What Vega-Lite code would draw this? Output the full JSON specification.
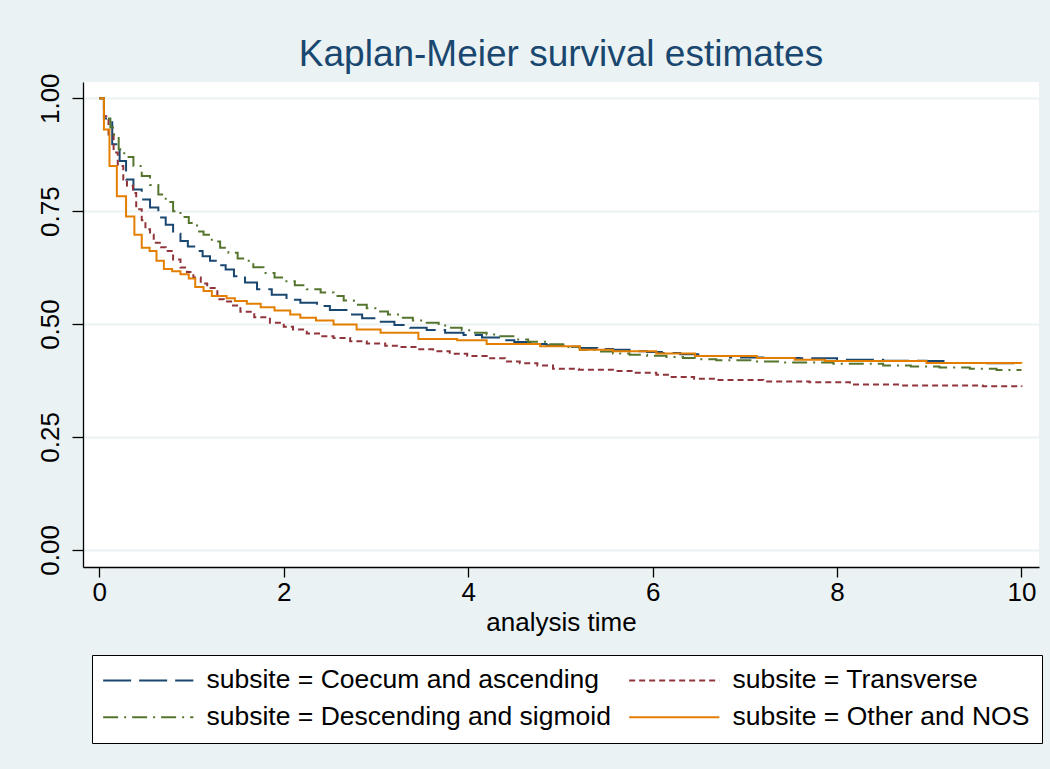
{
  "$schema": "https://vega.github.io/schema/vega-lite/v6.json",
  "width": 956,
  "height": 485,
  "autosize": {"type": "none"},
  "padding": {"left": 83, "top": 82, "right": 11, "bottom": 202},
  "background": "#EAF2F3",
  "title": {"text": "Kaplan-Meier survival estimates", "fontSize": 37, "font": "Liberation Sans", "fontWeight": "normal", "color": "#1A476F", "anchor": "middle", "baseline": "alphabetic", "offset": -30},
  "config": {"view": {"fill": "white", "stroke": null}, "font": "Liberation Sans"},
  "data": {"values": [
    {"subsite": "Coecum and ascending", "time": 0, "surv": 1.0},
    {"subsite": "Coecum and ascending", "time": 0.05, "surv": 0.955},
    {"subsite": "Coecum and ascending", "time": 0.14, "surv": 0.898},
    {"subsite": "Coecum and ascending", "time": 0.22, "surv": 0.861},
    {"subsite": "Coecum and ascending", "time": 0.29, "surv": 0.82},
    {"subsite": "Coecum and ascending", "time": 0.37, "surv": 0.798},
    {"subsite": "Coecum and ascending", "time": 0.46, "surv": 0.776},
    {"subsite": "Coecum and ascending", "time": 0.55, "surv": 0.758},
    {"subsite": "Coecum and ascending", "time": 0.64, "surv": 0.736},
    {"subsite": "Coecum and ascending", "time": 0.72, "surv": 0.72},
    {"subsite": "Coecum and ascending", "time": 0.80, "surv": 0.70},
    {"subsite": "Coecum and ascending", "time": 0.88, "surv": 0.684},
    {"subsite": "Coecum and ascending", "time": 0.96, "surv": 0.672},
    {"subsite": "Coecum and ascending", "time": 1.04, "surv": 0.662},
    {"subsite": "Coecum and ascending", "time": 1.12, "surv": 0.650},
    {"subsite": "Coecum and ascending", "time": 1.20, "surv": 0.640},
    {"subsite": "Coecum and ascending", "time": 1.28, "surv": 0.630},
    {"subsite": "Coecum and ascending", "time": 1.37, "surv": 0.621},
    {"subsite": "Coecum and ascending", "time": 1.46, "surv": 0.606},
    {"subsite": "Coecum and ascending", "time": 1.58, "surv": 0.592},
    {"subsite": "Coecum and ascending", "time": 1.71, "surv": 0.577},
    {"subsite": "Coecum and ascending", "time": 1.87, "surv": 0.565},
    {"subsite": "Coecum and ascending", "time": 2.03, "surv": 0.554},
    {"subsite": "Coecum and ascending", "time": 2.18, "surv": 0.547},
    {"subsite": "Coecum and ascending", "time": 2.36, "surv": 0.540},
    {"subsite": "Coecum and ascending", "time": 2.50, "surv": 0.531},
    {"subsite": "Coecum and ascending", "time": 2.68, "surv": 0.521},
    {"subsite": "Coecum and ascending", "time": 2.85, "surv": 0.513},
    {"subsite": "Coecum and ascending", "time": 3.03, "surv": 0.505},
    {"subsite": "Coecum and ascending", "time": 3.20, "surv": 0.498},
    {"subsite": "Coecum and ascending", "time": 3.37, "surv": 0.492},
    {"subsite": "Coecum and ascending", "time": 3.55, "surv": 0.487},
    {"subsite": "Coecum and ascending", "time": 3.75, "surv": 0.481},
    {"subsite": "Coecum and ascending", "time": 3.95, "surv": 0.476},
    {"subsite": "Coecum and ascending", "time": 4.15, "surv": 0.470},
    {"subsite": "Coecum and ascending", "time": 4.35, "surv": 0.464},
    {"subsite": "Coecum and ascending", "time": 4.50, "surv": 0.460},
    {"subsite": "Coecum and ascending", "time": 4.70, "surv": 0.456},
    {"subsite": "Coecum and ascending", "time": 4.85, "surv": 0.453},
    {"subsite": "Coecum and ascending", "time": 5.05, "surv": 0.450},
    {"subsite": "Coecum and ascending", "time": 5.21, "surv": 0.447},
    {"subsite": "Coecum and ascending", "time": 5.40, "surv": 0.445},
    {"subsite": "Coecum and ascending", "time": 5.57, "surv": 0.443},
    {"subsite": "Coecum and ascending", "time": 5.75, "surv": 0.440},
    {"subsite": "Coecum and ascending", "time": 5.94, "surv": 0.438},
    {"subsite": "Coecum and ascending", "time": 6.10, "surv": 0.436},
    {"subsite": "Coecum and ascending", "time": 6.30, "surv": 0.433},
    {"subsite": "Coecum and ascending", "time": 6.55, "surv": 0.429},
    {"subsite": "Coecum and ascending", "time": 6.84, "surv": 0.426},
    {"subsite": "Coecum and ascending", "time": 7.20, "surv": 0.425},
    {"subsite": "Coecum and ascending", "time": 7.60, "surv": 0.424},
    {"subsite": "Coecum and ascending", "time": 8.00, "surv": 0.421},
    {"subsite": "Coecum and ascending", "time": 8.50, "surv": 0.419},
    {"subsite": "Coecum and ascending", "time": 8.97, "surv": 0.418},
    {"subsite": "Coecum and ascending", "time": 9.22, "surv": 0.414},
    {"subsite": "Coecum and ascending", "time": 9.60, "surv": 0.413},
    {"subsite": "Coecum and ascending", "time": 10.0, "surv": 0.413},

    {"subsite": "Transverse", "time": 0, "surv": 1.0},
    {"subsite": "Transverse", "time": 0.05, "surv": 0.96},
    {"subsite": "Transverse", "time": 0.10, "surv": 0.92},
    {"subsite": "Transverse", "time": 0.155, "surv": 0.88},
    {"subsite": "Transverse", "time": 0.20, "surv": 0.85},
    {"subsite": "Transverse", "time": 0.26, "surv": 0.82},
    {"subsite": "Transverse", "time": 0.30, "surv": 0.806},
    {"subsite": "Transverse", "time": 0.365, "surv": 0.79},
    {"subsite": "Transverse", "time": 0.40, "surv": 0.754},
    {"subsite": "Transverse", "time": 0.46, "surv": 0.73},
    {"subsite": "Transverse", "time": 0.50, "surv": 0.71},
    {"subsite": "Transverse", "time": 0.55, "surv": 0.698},
    {"subsite": "Transverse", "time": 0.59, "surv": 0.68},
    {"subsite": "Transverse", "time": 0.67, "surv": 0.67},
    {"subsite": "Transverse", "time": 0.72, "surv": 0.662},
    {"subsite": "Transverse", "time": 0.80, "surv": 0.643},
    {"subsite": "Transverse", "time": 0.88, "surv": 0.625},
    {"subsite": "Transverse", "time": 0.95, "surv": 0.615},
    {"subsite": "Transverse", "time": 1.02, "surv": 0.603},
    {"subsite": "Transverse", "time": 1.10, "surv": 0.59},
    {"subsite": "Transverse", "time": 1.17, "surv": 0.58},
    {"subsite": "Transverse", "time": 1.28, "surv": 0.555},
    {"subsite": "Transverse", "time": 1.35, "surv": 0.550},
    {"subsite": "Transverse", "time": 1.45, "surv": 0.541},
    {"subsite": "Transverse", "time": 1.53, "surv": 0.527},
    {"subsite": "Transverse", "time": 1.68, "surv": 0.515},
    {"subsite": "Transverse", "time": 1.85, "surv": 0.503},
    {"subsite": "Transverse", "time": 2.00, "surv": 0.494},
    {"subsite": "Transverse", "time": 2.10, "surv": 0.488},
    {"subsite": "Transverse", "time": 2.25, "surv": 0.479},
    {"subsite": "Transverse", "time": 2.40, "surv": 0.473},
    {"subsite": "Transverse", "time": 2.54, "surv": 0.469},
    {"subsite": "Transverse", "time": 2.72, "surv": 0.462},
    {"subsite": "Transverse", "time": 2.90, "surv": 0.457},
    {"subsite": "Transverse", "time": 3.10, "surv": 0.452},
    {"subsite": "Transverse", "time": 3.26, "surv": 0.449},
    {"subsite": "Transverse", "time": 3.45, "surv": 0.444},
    {"subsite": "Transverse", "time": 3.62, "surv": 0.440},
    {"subsite": "Transverse", "time": 3.80, "surv": 0.434},
    {"subsite": "Transverse", "time": 3.99, "surv": 0.429},
    {"subsite": "Transverse", "time": 4.20, "surv": 0.424},
    {"subsite": "Transverse", "time": 4.40, "surv": 0.417},
    {"subsite": "Transverse", "time": 4.56, "surv": 0.413},
    {"subsite": "Transverse", "time": 4.75, "surv": 0.408},
    {"subsite": "Transverse", "time": 4.92, "surv": 0.401},
    {"subsite": "Transverse", "time": 5.20, "surv": 0.399},
    {"subsite": "Transverse", "time": 5.57, "surv": 0.396},
    {"subsite": "Transverse", "time": 5.80, "surv": 0.392},
    {"subsite": "Transverse", "time": 6.04, "surv": 0.388},
    {"subsite": "Transverse", "time": 6.19, "surv": 0.383},
    {"subsite": "Transverse", "time": 6.45, "surv": 0.379},
    {"subsite": "Transverse", "time": 6.69, "surv": 0.376},
    {"subsite": "Transverse", "time": 7.20, "surv": 0.373},
    {"subsite": "Transverse", "time": 7.70, "surv": 0.371},
    {"subsite": "Transverse", "time": 8.14, "surv": 0.366},
    {"subsite": "Transverse", "time": 8.70, "surv": 0.364},
    {"subsite": "Transverse", "time": 9.58, "surv": 0.362},
    {"subsite": "Transverse", "time": 10.0, "surv": 0.361},

    {"subsite": "Descending and sigmoid", "time": 0, "surv": 1.0},
    {"subsite": "Descending and sigmoid", "time": 0.05, "surv": 0.955},
    {"subsite": "Descending and sigmoid", "time": 0.12, "surv": 0.935},
    {"subsite": "Descending and sigmoid", "time": 0.16, "surv": 0.915},
    {"subsite": "Descending and sigmoid", "time": 0.21, "surv": 0.887},
    {"subsite": "Descending and sigmoid", "time": 0.27, "surv": 0.87},
    {"subsite": "Descending and sigmoid", "time": 0.37, "surv": 0.85},
    {"subsite": "Descending and sigmoid", "time": 0.46, "surv": 0.828},
    {"subsite": "Descending and sigmoid", "time": 0.55, "surv": 0.808},
    {"subsite": "Descending and sigmoid", "time": 0.64, "surv": 0.787},
    {"subsite": "Descending and sigmoid", "time": 0.72, "surv": 0.77},
    {"subsite": "Descending and sigmoid", "time": 0.80, "surv": 0.75},
    {"subsite": "Descending and sigmoid", "time": 0.88, "surv": 0.737},
    {"subsite": "Descending and sigmoid", "time": 0.97, "surv": 0.724},
    {"subsite": "Descending and sigmoid", "time": 1.06, "surv": 0.705},
    {"subsite": "Descending and sigmoid", "time": 1.13, "surv": 0.698},
    {"subsite": "Descending and sigmoid", "time": 1.22, "surv": 0.683},
    {"subsite": "Descending and sigmoid", "time": 1.31, "surv": 0.669},
    {"subsite": "Descending and sigmoid", "time": 1.40, "surv": 0.658},
    {"subsite": "Descending and sigmoid", "time": 1.50, "surv": 0.645},
    {"subsite": "Descending and sigmoid", "time": 1.56, "surv": 0.640},
    {"subsite": "Descending and sigmoid", "time": 1.67, "surv": 0.626},
    {"subsite": "Descending and sigmoid", "time": 1.78, "surv": 0.613},
    {"subsite": "Descending and sigmoid", "time": 1.90, "surv": 0.603},
    {"subsite": "Descending and sigmoid", "time": 2.00, "surv": 0.595},
    {"subsite": "Descending and sigmoid", "time": 2.12, "surv": 0.586},
    {"subsite": "Descending and sigmoid", "time": 2.25, "surv": 0.577},
    {"subsite": "Descending and sigmoid", "time": 2.40, "surv": 0.570},
    {"subsite": "Descending and sigmoid", "time": 2.54, "surv": 0.562},
    {"subsite": "Descending and sigmoid", "time": 2.65, "surv": 0.552},
    {"subsite": "Descending and sigmoid", "time": 2.76, "surv": 0.543},
    {"subsite": "Descending and sigmoid", "time": 2.90, "surv": 0.535},
    {"subsite": "Descending and sigmoid", "time": 3.01, "surv": 0.528},
    {"subsite": "Descending and sigmoid", "time": 3.13, "surv": 0.521},
    {"subsite": "Descending and sigmoid", "time": 3.26, "surv": 0.514},
    {"subsite": "Descending and sigmoid", "time": 3.40, "surv": 0.508},
    {"subsite": "Descending and sigmoid", "time": 3.55, "surv": 0.503},
    {"subsite": "Descending and sigmoid", "time": 3.68, "surv": 0.497},
    {"subsite": "Descending and sigmoid", "time": 3.80, "surv": 0.492},
    {"subsite": "Descending and sigmoid", "time": 3.93, "surv": 0.486},
    {"subsite": "Descending and sigmoid", "time": 4.06, "surv": 0.481},
    {"subsite": "Descending and sigmoid", "time": 4.20, "surv": 0.477},
    {"subsite": "Descending and sigmoid", "time": 4.31, "surv": 0.473},
    {"subsite": "Descending and sigmoid", "time": 4.49, "surv": 0.466},
    {"subsite": "Descending and sigmoid", "time": 4.65, "surv": 0.461},
    {"subsite": "Descending and sigmoid", "time": 4.85, "surv": 0.455},
    {"subsite": "Descending and sigmoid", "time": 5.03, "surv": 0.449},
    {"subsite": "Descending and sigmoid", "time": 5.21, "surv": 0.443},
    {"subsite": "Descending and sigmoid", "time": 5.40, "surv": 0.439},
    {"subsite": "Descending and sigmoid", "time": 5.57, "surv": 0.435},
    {"subsite": "Descending and sigmoid", "time": 5.75, "surv": 0.432},
    {"subsite": "Descending and sigmoid", "time": 5.94, "surv": 0.430},
    {"subsite": "Descending and sigmoid", "time": 6.15, "surv": 0.427},
    {"subsite": "Descending and sigmoid", "time": 6.33, "surv": 0.425},
    {"subsite": "Descending and sigmoid", "time": 6.50, "surv": 0.422},
    {"subsite": "Descending and sigmoid", "time": 6.69, "surv": 0.420},
    {"subsite": "Descending and sigmoid", "time": 7.06, "surv": 0.417},
    {"subsite": "Descending and sigmoid", "time": 7.42, "surv": 0.415},
    {"subsite": "Descending and sigmoid", "time": 7.96, "surv": 0.412},
    {"subsite": "Descending and sigmoid", "time": 8.50, "surv": 0.408},
    {"subsite": "Descending and sigmoid", "time": 8.80, "surv": 0.406},
    {"subsite": "Descending and sigmoid", "time": 9.11, "surv": 0.404},
    {"subsite": "Descending and sigmoid", "time": 9.44, "surv": 0.401},
    {"subsite": "Descending and sigmoid", "time": 9.73, "surv": 0.398},
    {"subsite": "Descending and sigmoid", "time": 10.0, "surv": 0.398},

    {"subsite": "Other and NOS", "time": 0, "surv": 1.0},
    {"subsite": "Other and NOS", "time": 0.05, "surv": 0.931},
    {"subsite": "Other and NOS", "time": 0.11, "surv": 0.850},
    {"subsite": "Other and NOS", "time": 0.19, "surv": 0.783},
    {"subsite": "Other and NOS", "time": 0.29, "surv": 0.738},
    {"subsite": "Other and NOS", "time": 0.38, "surv": 0.698},
    {"subsite": "Other and NOS", "time": 0.46, "surv": 0.669},
    {"subsite": "Other and NOS", "time": 0.545, "surv": 0.662},
    {"subsite": "Other and NOS", "time": 0.62, "surv": 0.640},
    {"subsite": "Other and NOS", "time": 0.70, "surv": 0.622},
    {"subsite": "Other and NOS", "time": 0.79, "surv": 0.617},
    {"subsite": "Other and NOS", "time": 0.88, "surv": 0.610},
    {"subsite": "Other and NOS", "time": 0.97, "surv": 0.601},
    {"subsite": "Other and NOS", "time": 1.04, "surv": 0.582},
    {"subsite": "Other and NOS", "time": 1.13, "surv": 0.573},
    {"subsite": "Other and NOS", "time": 1.22, "surv": 0.562},
    {"subsite": "Other and NOS", "time": 1.38, "surv": 0.557},
    {"subsite": "Other and NOS", "time": 1.47, "surv": 0.551},
    {"subsite": "Other and NOS", "time": 1.60, "surv": 0.545},
    {"subsite": "Other and NOS", "time": 1.75, "surv": 0.537},
    {"subsite": "Other and NOS", "time": 1.90, "surv": 0.530},
    {"subsite": "Other and NOS", "time": 2.07, "surv": 0.521},
    {"subsite": "Other and NOS", "time": 2.18, "surv": 0.514},
    {"subsite": "Other and NOS", "time": 2.35, "surv": 0.508},
    {"subsite": "Other and NOS", "time": 2.54, "surv": 0.499},
    {"subsite": "Other and NOS", "time": 2.79, "surv": 0.488},
    {"subsite": "Other and NOS", "time": 3.05, "surv": 0.481},
    {"subsite": "Other and NOS", "time": 3.46, "surv": 0.467},
    {"subsite": "Other and NOS", "time": 3.88, "surv": 0.464},
    {"subsite": "Other and NOS", "time": 4.20, "surv": 0.456},
    {"subsite": "Other and NOS", "time": 4.78, "surv": 0.451},
    {"subsite": "Other and NOS", "time": 5.21, "surv": 0.443},
    {"subsite": "Other and NOS", "time": 5.57, "surv": 0.440},
    {"subsite": "Other and NOS", "time": 6.04, "surv": 0.435},
    {"subsite": "Other and NOS", "time": 6.46, "surv": 0.429},
    {"subsite": "Other and NOS", "time": 7.13, "surv": 0.425},
    {"subsite": "Other and NOS", "time": 7.54, "surv": 0.421},
    {"subsite": "Other and NOS", "time": 7.87, "surv": 0.418},
    {"subsite": "Other and NOS", "time": 8.97, "surv": 0.414},
    {"subsite": "Other and NOS", "time": 10.0, "surv": 0.413}
  ]},
  "mark": {"type": "line", "interpolate": "step-after", "strokeWidth": 2},
  "encoding": {
    "x": {
      "field": "time", "type": "quantitative",
      "scale": {"domain": [-0.177, 10.19], "nice": false, "zero": false},
      "axis": {
        "values": [0, 2, 4, 6, 8, 10], "grid": false,
        "domainColor": "black", "domainWidth": 1.3,
        "tickColor": "black", "tickSize": 10, "tickWidth": 1.3,
        "labelFont": "Liberation Sans", "labelFontSize": 26, "labelColor": "black", "labelPadding": 2,
        "title": "analysis time", "titleFont": "Liberation Sans", "titleFontSize": 26, "titleFontWeight": "normal", "titleColor": "black", "titlePadding": 4
      }
    },
    "y": {
      "field": "surv", "type": "quantitative",
      "scale": {"domain": [-0.038, 1.036], "nice": false, "zero": false},
      "axis": {
        "values": [0, 0.25, 0.5, 0.75, 1], "format": ".2f",
        "grid": true, "gridColor": "#EAF2F3", "gridWidth": 2,
        "domainColor": "black", "domainWidth": 1.3,
        "tickColor": "black", "tickSize": 11, "tickWidth": 1.3,
        "labelFont": "Liberation Sans", "labelFontSize": 26, "labelColor": "black",
        "labelAngle": -90, "labelAlign": "center", "labelBaseline": "alphabetic", "labelPadding": 14,
        "title": null
      }
    },
    "color": {
      "field": "subsite", "type": "nominal",
      "scale": {"domain": ["Coecum and ascending", "Transverse", "Descending and sigmoid", "Other and NOS"], "range": ["#1A476F", "#90353B", "#55752F", "#E37E00"]},
      "legend": {
        "title": null, "orient": "none", "legendX": 9, "legendY": 573, "columns": 2, "direction": "horizontal",
        "labelExpr": "'subsite = ' + datum.label",
        "fillColor": "white", "strokeColor": "black", "padding": 12,
        "symbolType": "M-4.1,0H4.1", "symbolSize": 484, "symbolStrokeWidth": 2, "symbolOffset": 31,
        "labelFont": "Liberation Sans", "labelFontSize": 26.5, "labelColor": "black", "labelLimit": 700,
        "labelOffset": 45, "columnPadding": 14, "rowPadding": 10
      }
    },
    "strokeDash": {
      "field": "subsite", "type": "nominal",
      "scale": {"domain": ["Coecum and ascending", "Transverse", "Descending and sigmoid", "Other and NOS"], "range": [[28, 8], [6, 4], [15, 6, 2, 6], [1, 0]]},
      "legend": {
        "title": null, "orient": "none", "legendX": 9, "legendY": 573, "columns": 2, "direction": "horizontal",
        "labelExpr": "'subsite = ' + datum.label",
        "fillColor": "white", "strokeColor": "black", "padding": 12,
        "symbolType": "M-4.1,0H4.1", "symbolSize": 484, "symbolStrokeWidth": 2, "symbolOffset": 31,
        "labelFont": "Liberation Sans", "labelFontSize": 26.5, "labelColor": "black", "labelLimit": 700,
        "labelOffset": 45, "columnPadding": 14, "rowPadding": 10
      }
    }
  }
}
